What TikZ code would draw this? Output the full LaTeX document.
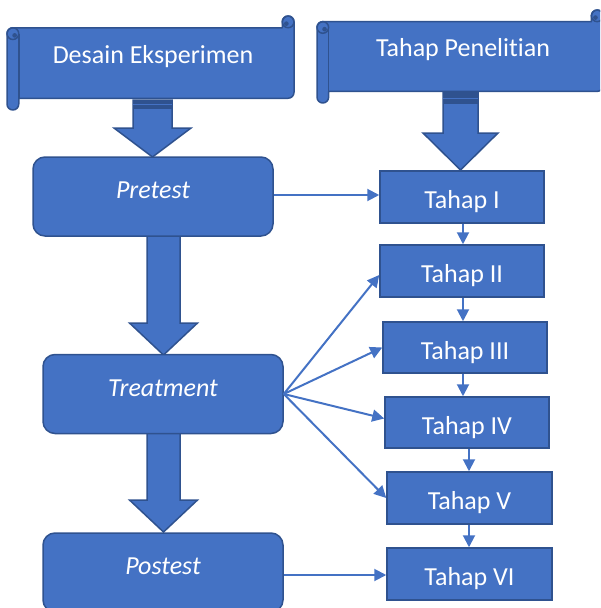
\documentclass[tikz,border=0pt]{standalone}
\usepackage{fontspec}
\setmainfont[Ligatures={NoCommon}]{Carlito}
\usetikzlibrary{arrows.meta,calc}
\definecolor{obl}{HTML}{4472C4}
\definecolor{odk}{HTML}{2F528F}
\tikzset{
  txt/.style={text=white,font=\fontsize{26}{30}\selectfont},
  roundbox/.style={txt,draw=odk,fill=obl,line width=1.5pt,rounded corners=12pt,
    minimum width=240pt,minimum height=79pt,inner sep=0pt,text height=17pt,text depth=13pt},
  tahapbox/.style={txt,draw=odk,fill=obl,line width=1.5pt,
    minimum width=164pt,minimum height=52pt,inner sep=0pt,text height=23pt,text depth=0pt},
  scrollst/.style={draw=odk,fill=obl,line width=1.5pt,line join=round},
  conn/.style={draw=obl,line width=2pt,-{Triangle[length=12pt,width=12pt]}},
  blockst/.style={draw=odk,fill=obl,line width=1.5pt,line join=miter},
}
% scroll: left, top, right, bottom
\newcommand\myscroll[4]{%
  \pgfmathsetmacro\sL{#1}\pgfmathsetmacro\sT{#2}\pgfmathsetmacro\sR{#3}\pgfmathsetmacro\sB{#4}%
  \pgfmathsetmacro\sC{(#4-#2)/8}\pgfmathsetmacro\sH{\sC/2}\pgfmathsetmacro\sQ{\sC/4}%
  \path[scrollst] (\sL,\sT+1.5*\sC) arc[start angle=180,end angle=270,radius=\sH]
    -- (\sR-\sC,\sT+\sC) -- (\sR-\sC,\sT+\sH) arc[start angle=180,end angle=360,radius=\sH]
    -- (\sR,\sB-\sC-\sH) arc[start angle=0,end angle=90,radius=\sH]
    -- (\sL+\sC,\sB-\sC) -- (\sL+\sC,\sB-\sH) arc[start angle=0,end angle=180,radius=\sH]
    -- cycle;
  \draw[odk,line width=1.5pt] (\sL+\sH,\sT+1.5*\sC) circle[radius=\sH];
  \fill[odk] (\sL+\sH+\sQ*0.6,\sT+1.5*\sC+\sQ*0.6) circle[radius=\sQ*0.8];
  \draw[odk,line width=1.5pt] (\sL+\sC,\sT+1.5*\sC) -- (\sL+\sC,\sB-\sC);
  \draw[odk,line width=1.5pt] (\sR-\sH,\sT+\sH) circle[radius=\sH];
  \fill[odk] (\sR-\sH-\sQ*0.6,\sT+\sH+\sQ*0.6) circle[radius=\sQ*0.8];
}
% block arrow: centre x, shaft half width, top, head top, head half width, tip, band height
\newcommand\myblock[7]{%
  \path[blockst] (#1-#2,#3) -- (#1+#2,#3) -- (#1+#2,#4) -- (#1+#5,#4) -- (#1,#6)
    -- (#1-#5,#4) -- (#1-#2,#4) -- cycle;
  \ifdim #7pt>0pt
    \fill[odk] (#1-#2,#3) rectangle (#1+#2,#3+#7);
    \draw[obl,line width=1pt] (#1-#2,#3+#7/2) -- (#1+#2,#3+#7/2);
  \fi
}
\begin{document}
\begin{tikzpicture}[x=1pt,y=-1pt]
\useasboundingbox (0,0) rectangle (600,608);
\clip (0,0) rectangle (600,608);

% block arrows
\myblock{152.5}{19.5}{100}{128}{38.5}{157}{9}
\myblock{460.5}{17.5}{92}{133}{37.5}{170}{12}
\myblock{163.5}{16.5}{236}{323}{34}{355}{0}
\myblock{163.5}{16.5}{433}{500}{34}{532}{0}

% scrolls
\myscroll{7}{16}{294}{110}
\myscroll{317}{10}{603}{103}
\node[txt] (desain) at (153,57) {Desain Eksperimen};
\node[txt] (tahap) at (463,50) {Tahap Penelit\kern0pt ian};

% left boxes
\node[roundbox] (pre) at (153,196.5) {\itshape Pretest};
\node[roundbox] (treat) at (163,394) {\itshape Treatment};
\node[roundbox] (post) at (163,572.5) {\itshape Postest};

% right boxes
\node[tahapbox] (t1) at (462,197) {Tahap I};
\node[tahapbox] (t2) at (462,271) {Tahap II};
\node[tahapbox,minimum height=51pt] (t3) at (465,347.5) {Tahap III};
\node[tahapbox,minimum height=51pt] (t4) at (467,422.5) {Tahap IV};
\node[tahapbox,minimum width=165pt] (t5) at (469.5,498) {Tahap V};
\node[tahapbox,minimum width=165pt] (t6) at (469.5,574) {Tahap VI};

\coordinate (ca) at (463,0);
\coordinate (cb) at (469,0);

% connectors
\draw[conn] (pre.east |- 0,195) -- (t1.west |- 0,195);
\draw[conn] (t1.south -| ca) -- (t2.north -| ca);
\draw[conn] (t2.south -| ca) -- (t3.north -| ca);
\draw[conn] (t3.south -| ca) -- (t4.north -| ca);
\draw[conn] (t4.south -| cb) -- (t5.north -| cb);
\draw[conn] (t5.south -| cb) -- (t6.north -| cb);
\draw[conn] (treat.east) -- ([yshift=-4pt]t2.west);
\draw[conn] (treat.east) -- (t3.west);
\draw[conn] (treat.east) -- ([yshift=4pt]t4.west);
\draw[conn] (treat.east) -- (t5.west);
\draw[conn] (post.east |- 0,575) -- (t6.west |- 0,575);
\end{tikzpicture}
\end{document}
